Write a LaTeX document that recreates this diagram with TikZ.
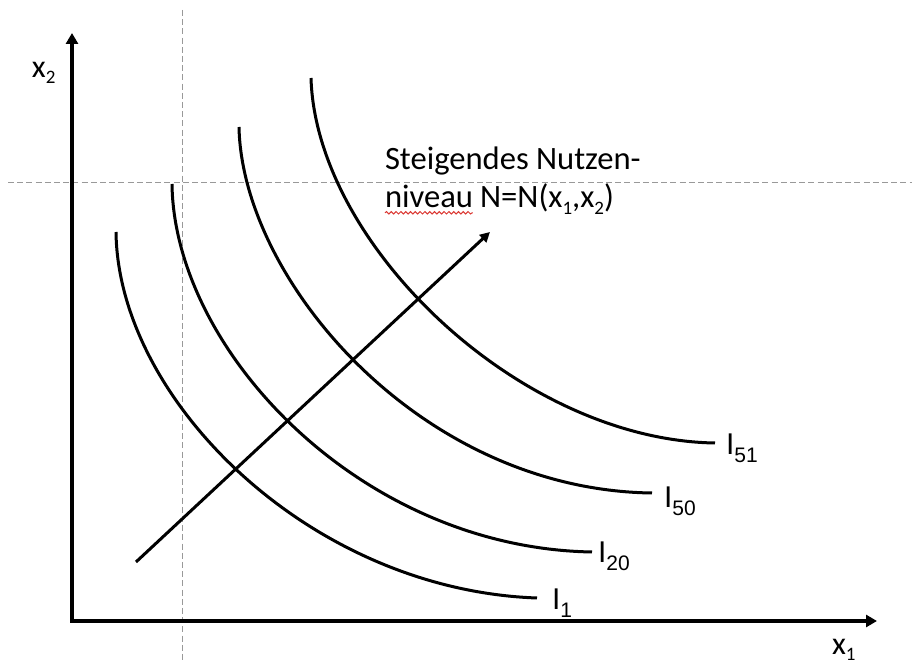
\documentclass[tikz,border=0pt]{standalone}
\usepackage{fontspec}
\setmainfont{Liberation Sans}
\newfontfamily\calfont{Carlito}
\usetikzlibrary{arrows.meta,positioning,decorations.pathmorphing}
\definecolor{ink}{gray}{0.0}
\definecolor{guide}{gray}{0.6}
\definecolor{spell}{rgb}{0.86,0.22,0.2}
\newcommand\isub[1]{\raisebox{-4pt}{\fontsize{10.5}{12}\selectfont #1}}
\newcommand\xsub[1]{\raisebox{-3pt}{\fontsize{9.5}{10}\selectfont #1}}
\newcommand\csub[1]{\raisebox{-3.5pt}{\fontsize{9.5}{10}\selectfont #1}}

\begin{document}
\begin{tikzpicture}[x=0.5pt,y=-0.5pt,
  every node/.style={inner sep=0pt,outer sep=0pt,text=ink},
  lab/.style={font=\fontsize{15}{18}\selectfont,anchor=base west},
  ax/.style={font=\calfont\fontsize{16}{18}\selectfont,anchor=base west},
  txt/.style={font=\calfont\fontsize{16.3}{20}\selectfont,anchor=base west},
  guideline/.style={draw=guide,line width=0.5pt,dash pattern=on 3pt off 1.6pt},
  ic/.style={draw=ink,line width=1.5pt},
  axis/.style={draw=ink,line width=2pt,{Triangle[length=5.5pt,width=6pt]}-{Triangle[length=5.5pt,width=6pt]}},
  rise/.style={draw=ink,line width=1.5pt,-{Triangle[length=5pt,width=5pt]}},
  wavy/.style={draw=spell,line width=0.5pt,decorate,decoration={snake,amplitude=0.6pt,segment length=2.4pt}}]

\useasboundingbox (0,0) rectangle (912,663);

% ---- guide lines ---------------------------------------------------------
\draw[guideline] (182,10) -- (182,663);
\draw[guideline] (8,183) -- (912,183);

% ---- axes ----------------------------------------------------------------
\coordinate (yend) at (72,33);
\coordinate (orig) at (72,621);
\coordinate (xend) at (877,621);
\draw[axis] (yend) -- (orig) -- (xend);
\node[ax] (xtwo) at (32,78) {x\xsub{2}};
\node[ax] (xone) at (832,654) {x\xsub{1}};

% ---- indifference curves -------------------------------------------------
\draw[ic] (116,232) .. controls (118,400) and (310,590) .. (537,598);
\draw[ic] (172,184) .. controls (174,350) and (360,548) .. (592,552);
\draw[ic] (239,127) .. controls (242,280) and (420,490) .. (652,493);
\draw[ic] (311,78) .. controls (316,245) and (520,440) .. (715,443);

\node[lab] (ione) at (552,610) {I\isub{1}};
\node[lab] (itwenty) at (598,563) {I\isub{20}};
\node[lab] (ififty) at (664,508) {I\isub{50}};
\node[lab] (ififtyone) at (726,455) {I\isub{51}};

% ---- rising utility ------------------------------------------------------
\coordinate (rstart) at (136,562);
\coordinate (rend) at (490,232);
\draw[rise] (rstart) -- (rend);

\node[txt] (steig) at (385,170) {Steigendes Nutzen-};
\node[txt] (niv) at (385,208) {niveau};
\node[txt,base right=3.6pt of niv] (nfun) {N=N(x\csub{1},x\csub{2})};
\draw[wavy] ([yshift=-2.4pt]niv.base west) -- ([yshift=-2.4pt]niv.base east);
\end{tikzpicture}
\end{document}
